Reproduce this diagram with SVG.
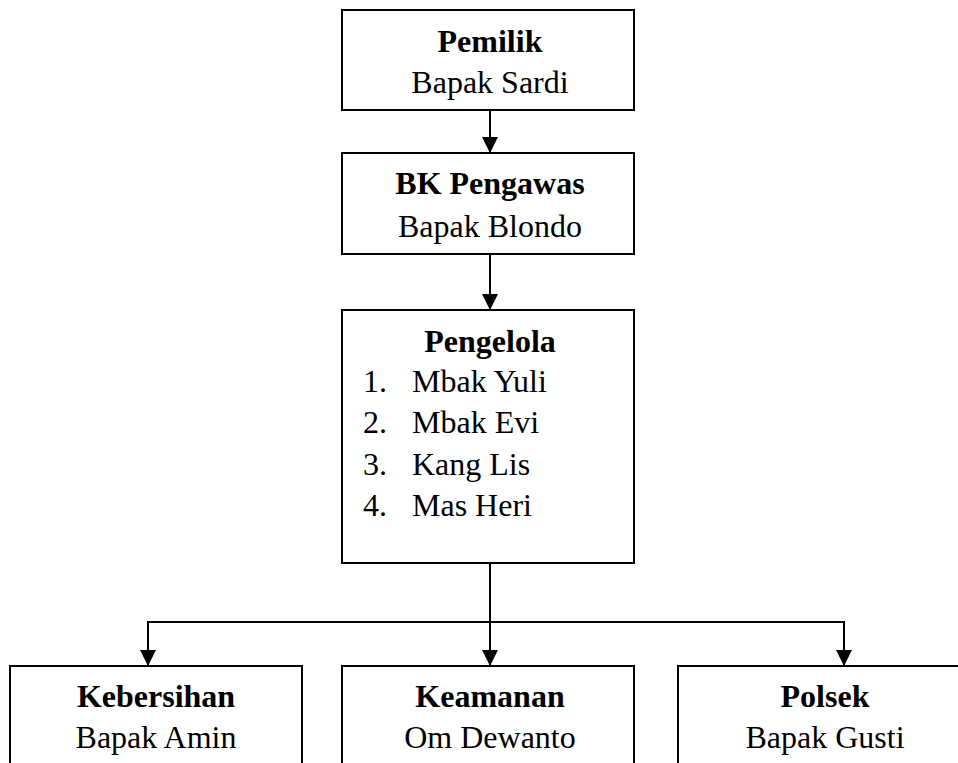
<svg xmlns="http://www.w3.org/2000/svg" width="958" height="763" viewBox="0 0 958 763">
<style>
.box{fill:#fff;stroke:#000;stroke-width:2}
.ln{fill:none;stroke:#000;stroke-width:2}
text{font-family:"Liberation Serif","Times New Roman",serif;font-size:32px;fill:#000}
.b{font-weight:bold}
.c{text-anchor:middle}
</style>
<defs>
<marker id="ah" markerWidth="16" markerHeight="16" refX="16" refY="8" orient="auto" markerUnits="userSpaceOnUse">
<path d="M0,0 L16,8 L0,16 Z" fill="#000"/>
</marker>
</defs>
<rect width="958" height="763" fill="#fff"/>
<g id="connectors">
<line class="ln" x1="490" y1="110" x2="490" y2="153" marker-end="url(#ah)"/>
<line class="ln" x1="490" y1="254" x2="490" y2="310" marker-end="url(#ah)"/>
<line class="ln" x1="490" y1="563" x2="490" y2="666" marker-end="url(#ah)"/>
<polyline class="ln" points="148,645 148,622 844,622 844,645"/>
<line class="ln" x1="148" y1="640" x2="148" y2="666" marker-end="url(#ah)"/>
<line class="ln" x1="844" y1="640" x2="844" y2="666" marker-end="url(#ah)"/>
</g>
<g id="pemilik">
<rect class="box" x="342" y="10" width="292" height="100"/>
<text class="b c" x="490" y="52">Pemilik</text>
<text class="c" x="490" y="93">Bapak Sardi</text>
</g>
<g id="bk-pengawas">
<rect class="box" x="342" y="153" width="292" height="101"/>
<text class="b c" x="490" y="194">BK Pengawas</text>
<text class="c" x="490" y="237">Bapak Blondo</text>
</g>
<g id="pengelola">
<rect class="box" x="342" y="310" width="292" height="253"/>
<text class="b c" x="490" y="352">Pengelola</text>
<text x="363" y="392">1.</text><text x="412" y="392">Mbak Yuli</text>
<text x="363" y="433">2.</text><text x="412" y="433">Mbak Evi</text>
<text x="363" y="475">3.</text><text x="412" y="475">Kang Lis</text>
<text x="363" y="516">4.</text><text x="412" y="516">Mas Heri</text>
</g>
<g id="kebersihan">
<rect class="box" x="10" y="666" width="292" height="130"/>
<text class="b c" x="156" y="707">Kebersihan</text>
<text class="c" x="156" y="748">Bapak Amin</text>
</g>
<g id="keamanan">
<rect class="box" x="342" y="666" width="292" height="130"/>
<text class="b c" x="490" y="707">Keamanan</text>
<text class="c" x="490" y="748">Om Dewanto</text>
</g>
<g id="polsek">
<rect class="box" x="678" y="666" width="300" height="130"/>
<text class="b c" x="825" y="707">Polsek</text>
<text class="c" x="825" y="748">Bapak Gusti</text>
</g>
</svg>
